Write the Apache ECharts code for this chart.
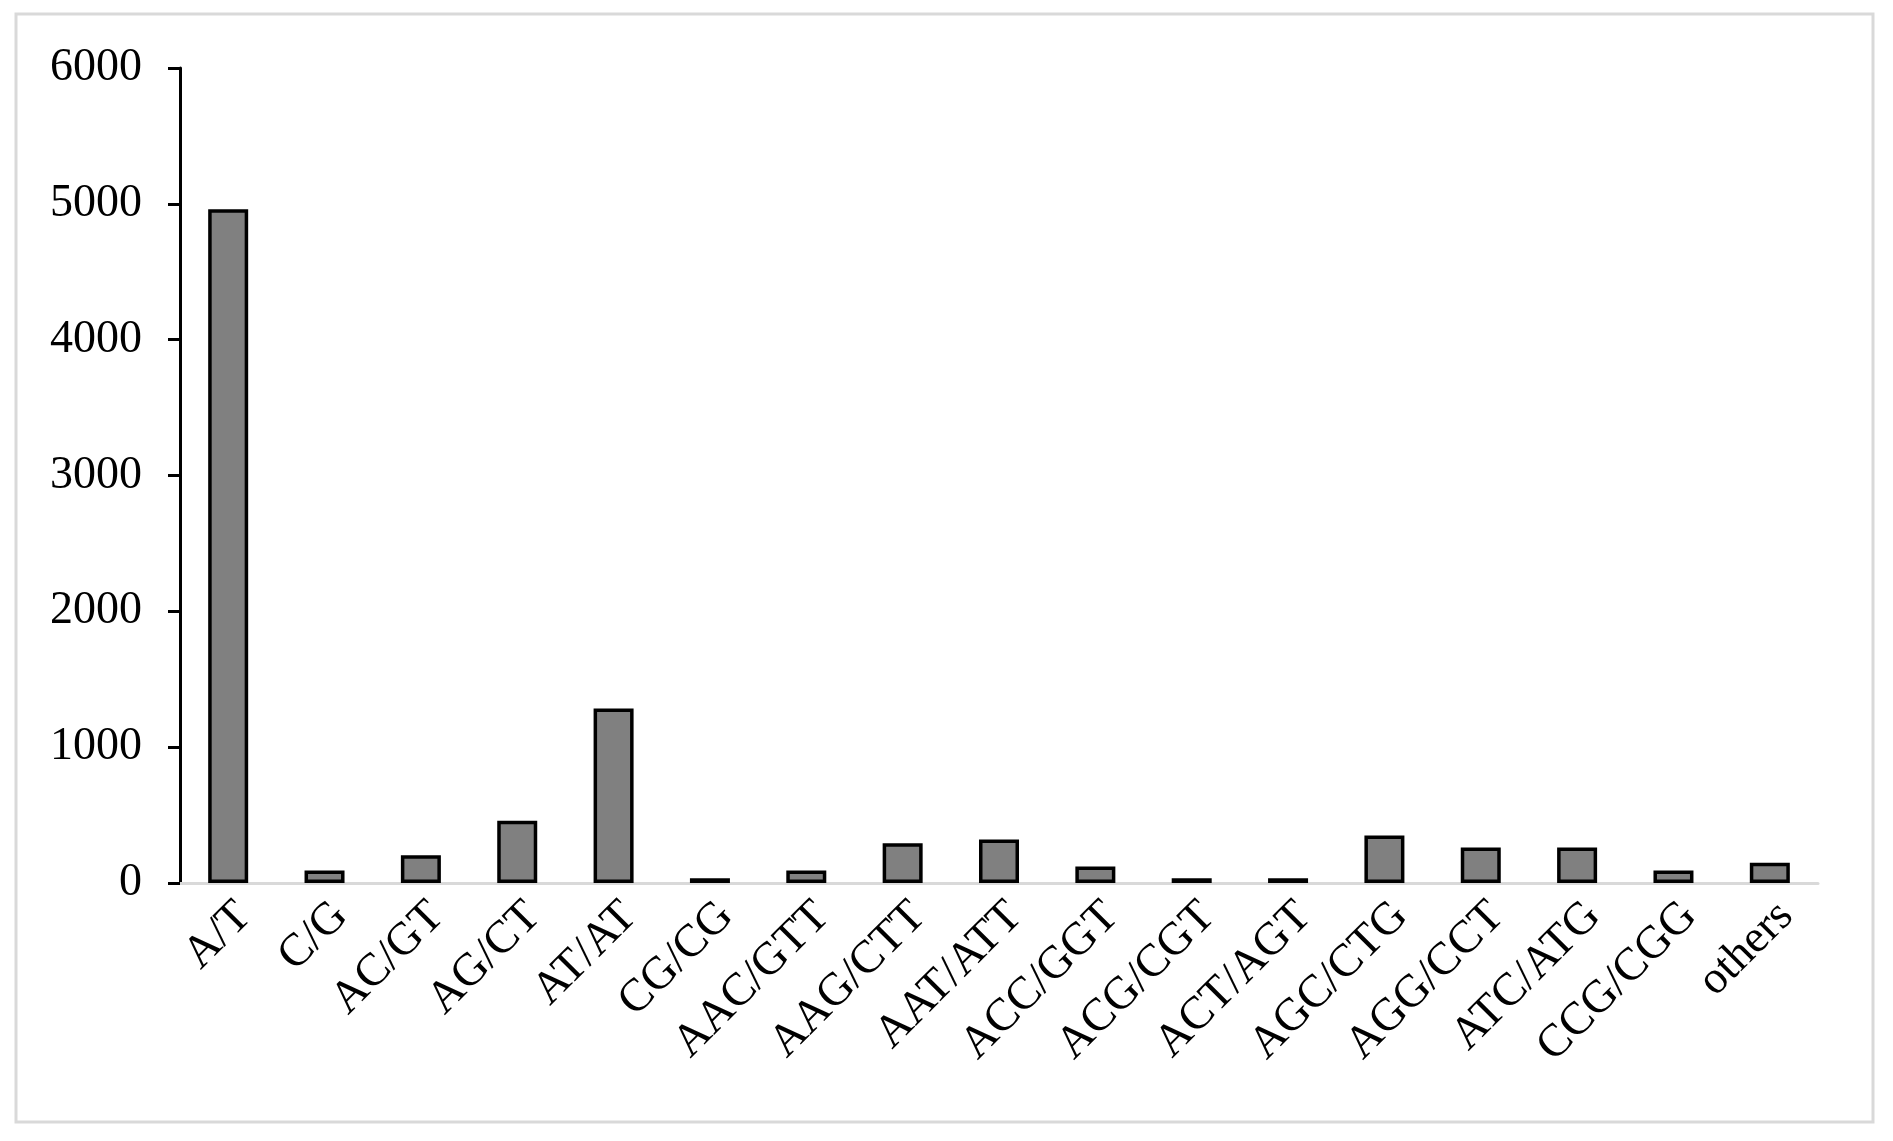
<!DOCTYPE html>
<html>
<head>
<meta charset="utf-8">
<script src="https://cdn.jsdelivr.net/npm/echarts@6/dist/echarts.min.js"></script>
<style>
  html, body { margin: 0; padding: 0; background: #fff; }
  #chart { width: 1893px; height: 1141px; }
</style>
</head>
<body>
<div id="chart"></div>
<script>
// motif types on the x axis
const categories = ['A/T', 'C/G', 'AC/GT', 'AG/CT', 'AT/AT', 'CG/CG', 'AAC/GTT', 'AAG/CTT',
  'AAT/ATT', 'ACC/GGT', 'ACG/CGT', 'ACT/AGT', 'AGC/CTG', 'AGG/CCT', 'ATC/ATG', 'CCG/CGG', 'others']

// counts
const counts = [4960, 92, 205, 458, 1285, 35, 92, 292, 320, 122, 35, 35, 350, 262, 262, 92, 150]

// y axis range
const yMin = 0
const yMax = 6000
const yStep = 1000

const fontFamily = '"Liberation Serif", "Times New Roman", serif'

const chart = echarts.init(document.getElementById('chart'))

const option = {
  backgroundColor: '#fff',
  animation: false,
  graphic: [
    {
      type: 'rect',
      shape: { x: 16, y: 14, width: 1857, height: 1108 },
      style: { fill: 'none', stroke: '#d9d9d9', lineWidth: 3 },
      silent: true
    }
  ],
  grid: {
    left: 180,
    right: 75,
    top: 68,
    bottom: 258
  },
  xAxis: {
    type: 'category',
    data: categories,
    axisLine: { lineStyle: { color: '#d9d9d9', width: 3 } },
    axisTick: { show: false },
    axisLabel: {
      interval: 0,
      rotate: 45,
      margin: 10,
      verticalAlign: 'top',
      color: '#000',
      fontFamily: fontFamily,
      fontSize: 46
    }
  },
  yAxis: {
    type: 'value',
    min: yMin,
    max: yMax,
    interval: yStep,
    splitLine: { show: false },
    axisLine: { show: true, lineStyle: { color: '#000', width: 3 } },
    axisTick: { show: true, inside: false, length: 12, lineStyle: { color: '#000', width: 3 } },
    axisLabel: {
      margin: 38,
      color: '#000',
      fontFamily: fontFamily,
      fontSize: 46,
      formatter: (v) => String(v)
    }
  },
  series: [
    {
      type: 'bar',
      data: counts,
      barWidth: 40,
      itemStyle: {
        color: '#808080',
        borderColor: '#000',
        borderWidth: 3.5
      }
    }
  ]
}

chart.setOption(option)
</script>
</body>
</html>
